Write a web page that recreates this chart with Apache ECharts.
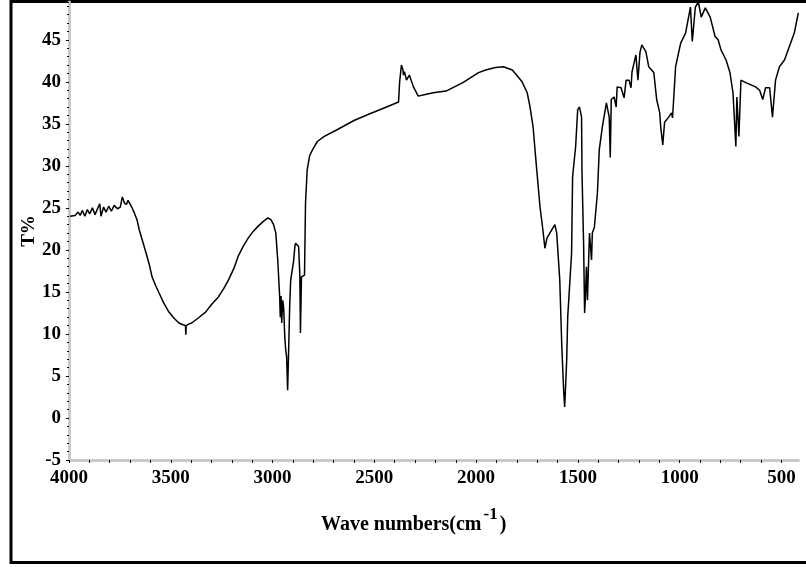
<!DOCTYPE html>
<html>
<head>
<meta charset="utf-8">
<title>IR spectrum</title>
<script src="https://cdn.jsdelivr.net/npm/echarts@6.0.0/dist/echarts.min.js"></script>
<style>
html, body { margin: 0; padding: 0; background: #fff; }
#chart { width: 806px; height: 567px; }
</style>
</head>
<body>
<div id="chart"></div>
<script>
// wave numbers (cm-1), high to low
var waveNumbers = [
  3995, 3970, 3955, 3945, 3935, 3922, 3910, 3898, 3885, 3872, 3860, 3849, 3843, 3830, 3818, 3805,
  3792, 3778, 3762, 3748, 3738, 3728, 3718, 3710, 3703, 3692, 3679, 3666, 3655, 3638, 3621, 3605,
  3592, 3575, 3558, 3535, 3509, 3485, 3460, 3440, 3428, 3426, 3424, 3410, 3397, 3365, 3329, 3300,
  3266, 3240, 3217, 3190, 3168, 3145, 3120, 3095, 3072, 3045, 3023, 3008, 2995, 2984, 2974, 2965,
  2962, 2958, 2955, 2950, 2945, 2940, 2935, 2931, 2928, 2926, 2921, 2916, 2911, 2897, 2890, 2887,
  2878, 2872, 2866, 2863, 2858, 2853, 2843, 2838, 2830, 2818, 2804, 2780, 2746, 2683, 2600, 2522,
  2440, 2381, 2376, 2367, 2360, 2357, 2352, 2342, 2328, 2308, 2284, 2250, 2211, 2148, 2065, 1988,
  1953, 1905, 1866, 1822, 1774, 1749, 1735, 1720, 1701, 1686, 1672, 1662, 1652, 1628, 1613, 1604,
  1589, 1579, 1570, 1565, 1560, 1555, 1550, 1531, 1526, 1511, 1501, 1492, 1482, 1480, 1472, 1467,
  1463, 1458, 1453, 1443, 1433, 1429, 1419, 1404, 1395, 1380, 1360, 1346, 1341, 1336, 1322, 1312,
  1307, 1288, 1273, 1263, 1249, 1239, 1234, 1215, 1205, 1195, 1186, 1166, 1152, 1127, 1113, 1098,
  1093, 1083, 1074, 1054, 1040, 1035, 1020, 995, 971, 947, 938, 923, 908, 894, 874, 850,
  826, 811, 797, 772, 753, 738, 724, 719, 709, 699, 675, 627, 607, 592, 578, 558,
  544, 529, 510, 485, 461, 437, 417
];
// transmittance T%
var transmittance = [
  24.0, 24.1, 24.5, 24.1, 24.7, 24.0, 24.8, 24.3, 25.0, 24.2, 24.9, 25.5, 24.0, 25.1, 24.5, 25.2,
  24.6, 25.3, 24.9, 25.1, 26.3, 25.6, 25.4, 25.9, 25.6, 25.1, 24.4, 23.6, 22.4, 21.0, 19.6, 18.2,
  16.8, 15.8, 14.9, 13.7, 12.6, 11.9, 11.3, 11.1, 11.0, 9.9, 11.0, 11.2, 11.3, 11.9, 12.6, 13.5,
  14.4, 15.4, 16.4, 17.8, 19.3, 20.4, 21.4, 22.2, 22.8, 23.4, 23.8, 23.6, 23.0, 22.0, 18.6, 14.4,
  12.0, 14.5, 11.3, 14.0, 13.0, 9.6, 8.0, 7.3, 5.0, 3.3, 8.0, 13.2, 16.4, 18.6, 20.5, 20.8,
  20.6, 20.4, 17.0, 10.1, 16.8, 17.0, 17.0, 25.6, 29.5, 31.2, 31.9, 32.9, 33.5, 34.3, 35.4, 36.2,
  37.0, 37.6, 39.9, 42.0, 41.5, 40.8, 41.2, 40.2, 40.8, 39.4, 38.3, 38.5, 38.7, 38.9, 39.9, 41.1,
  41.4, 41.7, 41.8, 41.4, 40.0, 38.7, 37.0, 34.6, 29.2, 25.1, 22.4, 20.2, 21.4, 22.4, 23.0, 22.0,
  16.4, 8.5, 3.3, 1.3, 4.0, 6.9, 12.0, 19.6, 28.7, 32.3, 36.7, 37.0, 35.8, 29.5, 20.8, 12.5,
  14.5, 18.0, 14.0, 22.0, 18.8, 22.0, 22.7, 26.8, 31.9, 34.6, 37.5, 35.8, 31.0, 37.9, 38.2, 37.0,
  39.4, 39.3, 38.1, 40.2, 40.2, 39.3, 41.2, 43.2, 40.2, 43.5, 44.4, 43.6, 41.8, 41.1, 37.9, 36.3,
  34.6, 32.5, 35.2, 35.8, 36.3, 35.7, 41.8, 44.6, 45.8, 48.9, 44.8, 48.9, 49.5, 47.7, 48.8, 47.7,
  45.4, 45.0, 43.8, 42.6, 41.1, 38.7, 32.3, 38.2, 33.5, 40.2, 39.9, 39.4, 39.0, 37.9, 39.3, 39.3,
  35.8, 40.2, 41.8, 42.6, 44.2, 45.8, 48.2
];
var xTickLabels = [4000, 3500, 3000, 2500, 2000, 1500, 1000, 500];
var xMinorTicks = [];
for (var w = 4000; w >= 500; w -= 100) xMinorTicks.push(w);

var serif = "'Liberation Serif', 'Times New Roman', serif";

var chart = echarts.init(document.getElementById('chart'));
chart.setOption({
  animation: false,
  backgroundColor: '#fff',
  grid: { left: 69, right: 0, top: 2, bottom: 107 },
  xAxis: {
    type: 'value',
    inverse: true,
    min: 417,
    max: 4000,
    name: '{a|Wave numbers(cm}{s|-1}{a|)}',
    nameLocation: 'middle',
    nameGap: 46,
    nameTextStyle: {
      padding: [0, 40, 0, 0],
      rich: {
        a: { fontFamily: serif, fontWeight: 'bold', fontSize: 20, color: '#000' },
        s: { fontFamily: serif, fontWeight: 'bold', fontSize: 17, color: '#000', padding: [0, 2, 20, 2] }
      }
    },
    axisLine: { show: true, onZero: false, lineStyle: { color: '#c8c8c8', width: 3 } },
    axisTick: { show: true, customValues: xMinorTicks, length: 3, lineStyle: { color: '#000', width: 1 } },
    axisLabel: {
      customValues: xTickLabels,
      margin: 9,
      fontFamily: serif,
      fontWeight: 'bold',
      fontSize: 19,
      color: '#000',
      formatter: function (v) { return String(v); }
    },
    splitLine: { show: false }
  },
  yAxis: {
    type: 'value',
    min: -5,
    max: 49.5,
    interval: 5,
    name: 'T%',
    nameLocation: 'middle',
    nameRotate: 90,
    nameGap: 30,
    nameMoveOverlap: false,
    nameTextStyle: { fontFamily: serif, fontWeight: 'bold', fontSize: 19, color: '#000' },
    axisLine: { show: true, lineStyle: { color: '#c8c8c8', width: 3 } },
    axisTick: { show: true, length: 3, lineStyle: { color: '#000', width: 1 } },
    minorTick: { show: true, splitNumber: 5, length: 2, lineStyle: { color: '#000', width: 1 } },
    axisLabel: {
      margin: 8,
      showMaxLabel: false,
      fontFamily: serif,
      fontWeight: 'bold',
      fontSize: 19,
      color: '#000'
    },
    splitLine: { show: false }
  },
  graphic: [{
    type: 'rect',
    silent: true,
    shape: { x: 11, y: 1.5, width: 830, height: 561 },
    style: { fill: 'none', stroke: '#000', lineWidth: 3 }
  }],
  series: [{
    type: 'line',
    showSymbol: false,
    clip: true,
    lineStyle: { color: '#000', width: 1.5 },
    data: waveNumbers.map(function (w, i) { return [w, transmittance[i]]; })
  }]
});
</script>
</body>
</html>
